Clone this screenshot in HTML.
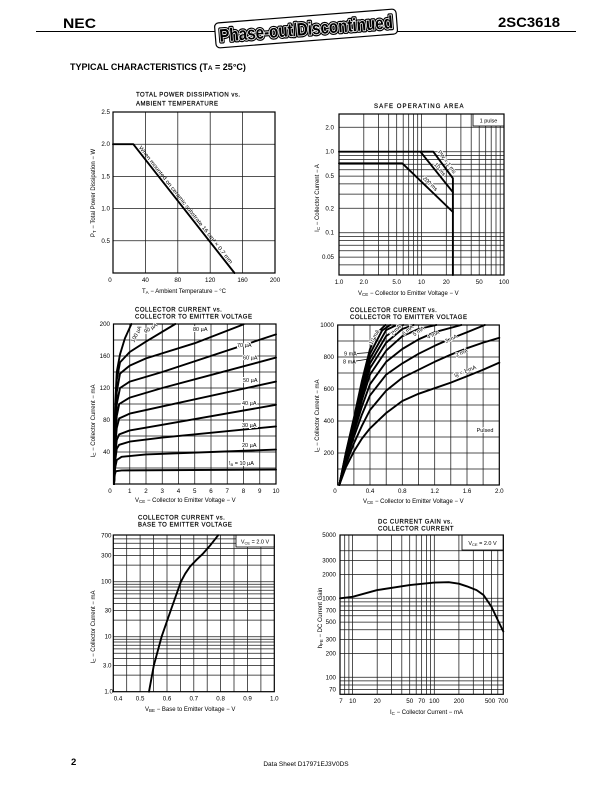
<!DOCTYPE html>
<html><head><meta charset="utf-8"><style>
html,body{margin:0;padding:0;background:#fff;}
svg{display:block;}
text{font-family:"Liberation Sans",Arial,sans-serif;fill:#000;}
.g{stroke:#1a1a1a;stroke-width:0.75;fill:none;}
.b{stroke:#000;stroke-width:1.2;fill:none;}
.c{stroke:#000;stroke-width:1.9;fill:none;stroke-linejoin:round;stroke-linecap:round;}
.t{font-size:6.2px;}
.tr{font-size:6.2px;text-anchor:end;}
.tm{font-size:6.2px;text-anchor:middle;}
.h{font-size:6px;letter-spacing:0.5px;stroke:#000;stroke-width:0.2;}
.a{font-size:6px;}
.l{font-size:5.5px;stroke:#fff;stroke-width:2;paint-order:stroke;}
.lm{font-size:5.5px;text-anchor:middle;stroke:#fff;stroke-width:1.5;paint-order:stroke;}
</style></head><body>
<svg width="612" height="792" viewBox="0 0 612 792" xmlns="http://www.w3.org/2000/svg">
<!-- Header -->
<text x="63" y="28" style="font-size:14px;font-weight:bold;" textLength="33" lengthAdjust="spacingAndGlyphs">NEC</text>
<line x1="36" y1="31.5" x2="215" y2="31.5" stroke="#000" stroke-width="1"/>
<line x1="397" y1="31.5" x2="576" y2="31.5" stroke="#000" stroke-width="1"/>
<text x="498" y="27" style="font-size:14px;font-weight:bold;" textLength="62" lengthAdjust="spacingAndGlyphs">2SC3618</text>
<g transform="translate(306,28) rotate(-4.5)">
<rect x="-91" y="-12" width="182" height="25" rx="4" fill="#fff" stroke="#000" stroke-width="1.2"/>
<text x="-87" y="7" style="font-size:18px;font-weight:bold;" textLength="174" lengthAdjust="spacingAndGlyphs" stroke="#000" stroke-width="4" stroke-linejoin="round">Phase-out/Discontinued</text>
<text x="-87" y="7" style="font-size:18px;font-weight:bold;fill:#000;" textLength="174" lengthAdjust="spacingAndGlyphs" stroke="#fff" stroke-width="1.6" stroke-linejoin="round" paint-order="stroke">Phase-out/Discontinued</text>
</g>
<text x="70" y="70" style="font-size:9px;font-weight:bold;">TYPICAL CHARACTERISTICS (T<tspan style="font-size:6.5px">A</tspan> = 25°C)</text>

<!-- ============ Chart 1: Power dissipation ============ -->
<text x="136" y="96.5" class="h">TOTAL POWER DISSIPATION vs.</text>
<text x="136" y="105.5" class="h">AMBIENT TEMPERATURE</text>
<g class="g">
<path d="M145.4 112V273M177.8 112V273M210.2 112V273M242.6 112V273M113 144.2H275M113 176.4H275M113 208.6H275M113 240.8H275"/>
</g>
<rect x="113" y="112" width="162" height="161" class="b"/>
<polyline points="113,144.2 133.3,144.2 234.5,273" class="c" stroke-width="2.2"/>
<text transform="translate(138.6,147.7) rotate(51.8)" style="font-size:5.5px;" textLength="148" lengthAdjust="spacingAndGlyphs">When mounted on ceramic substrate 16 cm² × 0.7 mm</text>
<text x="110" y="114" class="tr">2.5</text>
<text x="110" y="146.2" class="tr">2.0</text>
<text x="110" y="178.4" class="tr">1.5</text>
<text x="110" y="210.6" class="tr">1.0</text>
<text x="110" y="242.8" class="tr">0.5</text>
<text x="110" y="282" class="tm">0</text>
<text x="145.4" y="282" class="tm">40</text>
<text x="177.8" y="282" class="tm">80</text>
<text x="210.2" y="282" class="tm">120</text>
<text x="242.6" y="282" class="tm">160</text>
<text x="275" y="282" class="tm">200</text>
<text x="142" y="293" class="a">T<tspan style="font-size:4.5px" dy="1">A</tspan><tspan dy="-1"> − Ambient  Temperature − °C</tspan></text>
<text transform="translate(95,193) rotate(-90)" class="a" text-anchor="middle">P<tspan style="font-size:4.5px" dy="1">T</tspan><tspan dy="-1"> − Total Power  Dissipation − W</tspan></text>

<!-- ============ Chart 2: SOA ============ -->
<text x="374" y="108" class="h" textLength="90">SAFE OPERATING AREA</text>
<g class="g">
<path d="M363.8 114V275M378.4 114V275M388.7 114V275M396.7 114V275M403.2 114V275M408.7 114V275M413.5 114V275M417.7 114V275M421.5 114V275M446.3 114V275M460.9 114V275M471.2 114V275M479.2 114V275M485.7 114V275M491.2 114V275M496 114V275M500.2 114V275"/>
<path d="M339 127.3H504M339 151.7H504M339 155.4H504M339 159.6H504M339 164.2H504M339 169.7H504M339 176.1H504M339 183.9H504M339 194.1H504M339 208.3H504M339 232.7H504M339 236.4H504M339 240.6H504M339 245.2H504M339 250.7H504M339 257.1H504M339 264.9H504"/>
</g>
<rect x="473" y="114" width="31" height="12" fill="#fff" stroke="#000" stroke-width="0.8"/>
<text x="488.5" y="122.5" class="lm" style="stroke:none">1 pulse</text>
<rect x="339" y="114" width="165" height="161" class="b"/>
<polyline points="339,151.7 433.3,151.7 452.9,178.3 452.9,275" class="c"/>
<polyline points="420.4,151.7 452.9,192.2" class="c"/>
<polyline points="339,163.3 402.3,163.3 452.9,212" class="c"/>
<text transform="translate(445.5,163) rotate(53.6)" class="lm">PW = 1 ms</text>
<text transform="translate(438.5,170.5) rotate(51)" class="lm">10 ms</text>
<text transform="translate(429,185) rotate(43.9)" class="lm">200 ms</text>
<text x="334" y="129.3" class="tr">2.0</text>
<text x="334" y="153.7" class="tr">1.0</text>
<text x="334" y="178.1" class="tr">0.5</text>
<text x="334" y="210.3" class="tr">0.2</text>
<text x="334" y="234.7" class="tr">0.1</text>
<text x="334" y="259.1" class="tr">0.05</text>
<text x="339" y="284" class="tm">1.0</text>
<text x="363.8" y="284" class="tm">2.0</text>
<text x="396.7" y="284" class="tm">5.0</text>
<text x="421.5" y="284" class="tm">10</text>
<text x="446.3" y="284" class="tm">20</text>
<text x="479.2" y="284" class="tm">50</text>
<text x="504" y="284" class="tm">100</text>
<text x="358" y="295" class="a">V<tspan style="font-size:4.5px" dy="1">CE</tspan><tspan dy="-1"> − Collector to Emitter Voltage − V</tspan></text>
<text transform="translate(319,198) rotate(-90)" class="a" text-anchor="middle">I<tspan style="font-size:4.5px" dy="1">C</tspan><tspan dy="-1"> − Collector Current − A</tspan></text>

<!-- ============ Chart 3: IC vs VCE (0-10V) ============ -->
<text x="135" y="311.7" class="h">COLLECTOR CURRENT vs.</text>
<text x="135" y="318.5" class="h">COLLECTOR TO EMITTER VOLTAGE</text>
<g class="g">
<path d="M129.75 324V484M146 324V484M162.25 324V484M178.5 324V484M194.75 324V484M211 324V484M227.25 324V484M243.5 324V484M259.75 324V484"/>
<path d="M113.5 468H276M113.5 452H276M113.5 436H276M113.5 420H276M113.5 404H276M113.5 388H276M113.5 372H276M113.5 356H276M113.5 340H276"/>
</g>
<rect x="113.5" y="324" width="162.5" height="160" class="b"/>
<g class="c">
<polyline points="114,484 114.8,474.4 115.9,471.2 121.6,470.4 276,469.6"/>
<polyline points="114,484 115.1,468 116.75,460 121.6,456.8 146,454.4 276,449.6"/>
<polyline points="114,484 115.1,461.6 116.75,448.8 119.2,444.8 129.75,441.6 162.25,437.6 276,426.4"/>
<polyline points="114,484 115.1,456 116.75,440 119.2,434.4 129.75,430.4 162.25,424.8 276,404.8"/>
<polyline points="114,484 115.1,448 116.75,428 119.2,418.4 129.75,413.6 162.25,406.4 276,381.6"/>
<polyline points="114,484 115.1,440 116.75,416 119.2,404 129.75,397.6 162.25,388 276,357.6"/>
<polyline points="114,484 115.1,432 116.75,404 120,388 129.75,381.6 162.25,372 276,334.4"/>
<polyline points="114,484 115.1,424 116.75,392 120,373.6 129.75,365.6 146,358.4 194.75,343.2 243.5,324.4"/>
<polyline points="114,484 115.1,416 116.75,380 120,362.4 129.75,352 146,341.6 175.25,324"/>
<polyline points="114,484 115.1,408 116.75,372 120,354.4 124.9,338.4 131.4,324"/>
</g>
<text transform="translate(136,334) rotate(-65)" class="lm" y="2">100 µA</text>
<text transform="translate(150.5,328) rotate(-31)" class="lm" y="2">90 µA</text>
<text x="193" y="331" class="l">80 µA</text>
<text x="237" y="347" class="l">70 µA</text>
<text x="243" y="359.5" class="l">60 µA</text>
<text x="243" y="382" class="l">50 µA</text>
<text x="242" y="405" class="l">40 µA</text>
<text x="242" y="427" class="l">30 µA</text>
<text x="242" y="447" class="l">20 µA</text>
<text x="229" y="465" class="l">I<tspan style="font-size:4px" dy="1">B</tspan><tspan dy="-1"> = 10 µA</tspan></text>
<text x="110" y="326" class="tr">200</text>
<text x="110" y="358" class="tr">160</text>
<text x="110" y="390" class="tr">120</text>
<text x="110" y="422" class="tr">80</text>
<text x="110" y="454" class="tr">40</text>
<text x="110" y="493" class="tm">0</text>
<text x="129.75" y="493" class="tm">1</text>
<text x="146" y="493" class="tm">2</text>
<text x="162.25" y="493" class="tm">3</text>
<text x="178.5" y="493" class="tm">4</text>
<text x="194.75" y="493" class="tm">5</text>
<text x="211" y="493" class="tm">6</text>
<text x="227.25" y="493" class="tm">7</text>
<text x="243.5" y="493" class="tm">8</text>
<text x="259.75" y="493" class="tm">9</text>
<text x="276" y="493" class="tm">10</text>
<text x="135" y="502" class="a">V<tspan style="font-size:4.5px" dy="1">CE</tspan><tspan dy="-1"> − Collector to Emitter Voltage − V</tspan></text>
<text transform="translate(95,421) rotate(-90)" class="a" text-anchor="middle">I<tspan style="font-size:4.5px" dy="1">C</tspan><tspan dy="-1"> − Collector Current − mA</tspan></text>

<!-- ============ Chart 4: IC vs VCE (0-2V) ============ -->
<text x="350" y="312" class="h">COLLECTOR CURRENT vs.</text>
<text x="350" y="319" class="h">COLLECTOR TO EMITTER VOLTAGE</text>
<g class="g">
<path d="M353.9 325V485M370 325V485M386.2 325V485M402.3 325V485M418.5 325V485M434.7 325V485M450.8 325V485M467 325V485M483.1 325V485"/>
<path d="M337.7 469H499.3M337.7 453H499.3M337.7 437H499.3M337.7 421H499.3M337.7 405H499.3M337.7 389H499.3M337.7 373H499.3M337.7 357H499.3M337.7 341H499.3"/>
</g>
<rect x="337.7" y="325" width="161.6" height="160" class="b"/>
<g class="c">
<polyline points="339.3,485 345.8,467.4 353.9,451.4 361.9,438.6 370,428.4 386.2,413 402.3,401 418.5,393.8 434.7,388.2 450.8,382.6 467,376.2 483.1,369.8 499.3,362.6"/>
<polyline points="339.3,485 345.8,464.2 353.9,443.4 361.9,425.8 370,410 386.2,390.6 402.3,377.8 418.5,369.8 434.7,361.8 450.8,354.6 467,348.2 483.1,342.6 499.3,337.8"/>
<polyline points="339.3,485 345.8,461 353.9,437 361.9,414.6 370,395.4 386.2,374.6 402.3,363.4 418.5,353.8 434.7,345.8 450.8,338.6 467,332.2 484.8,325"/>
<polyline points="339.3,485 345.8,459.4 353.9,432.2 361.9,406.6 370,384.2 386.2,361.8 402.3,349 418.5,339.4 434.7,332.2 461.3,325"/>
<polyline points="339.3,485 345.8,457.8 353.9,429 361.9,400.2 370,374.6 386.2,350.6 402.3,336.2 418.5,329 436.3,325"/>
<polyline points="339.3,485 345.8,456.2 353.9,425.8 361.9,395.4 370,368.2 386.2,342.6 402.3,329 413.6,325"/>
<polyline points="339.3,485 345.8,455.4 353.9,423.4 361.9,390.6 370,363.4 386.2,336 403.1,325"/>
<polyline points="339.3,485 345.8,454.6 353.9,421 361.9,387.4 370,358.6 386.2,330 396.7,325"/>
<polyline points="339.3,485 345.8,453.8 353.9,419.4 361.9,384.2 370,353.8 382.1,330.5 390.2,325"/>
<polyline points="339.3,485 345.8,453 353.9,417.8 361.9,381 370,349 378.1,332 385.4,325"/>
</g>
<text transform="translate(374,337) rotate(-62)" class="lm" y="2">10 mA</text>
<text transform="translate(395.5,330) rotate(-50)" class="lm" y="2">7 mA</text>
<text transform="translate(407.5,330) rotate(-40)" class="lm" y="2">6 mA</text>
<text transform="translate(418.5,331) rotate(-35)" class="lm" y="2">5 mA</text>
<text transform="translate(433,334.5) rotate(-25)" class="lm" y="2">4 mA</text>
<text transform="translate(451,338.5) rotate(-25)" class="lm" y="2">3 mA</text>
<text transform="translate(461.5,352.5) rotate(-25)" class="lm" y="2">2 mA</text>
<text transform="translate(465,371) rotate(-22)" class="lm" y="2">I<tspan style="font-size:4px" dy="1">B</tspan><tspan dy="-1"> = 1 mA</tspan></text>
<text x="344" y="355.5" style="font-size:5.5px">9 mA</text>
<line x1="357" y1="353.5" x2="370" y2="352.5" stroke="#000" stroke-width="0.7"/>
<text x="343" y="363.5" style="font-size:5.5px">8 mA</text>
<line x1="356" y1="361" x2="369" y2="359" stroke="#000" stroke-width="0.7"/>
<text x="485" y="432" class="lm">Pulsed</text>
<text x="334" y="327" class="tr">1000</text>
<text x="334" y="359" class="tr">800</text>
<text x="334" y="391" class="tr">600</text>
<text x="334" y="423" class="tr">400</text>
<text x="334" y="455" class="tr">200</text>
<text x="335" y="493" class="tm">0</text>
<text x="370" y="493" class="tm">0.4</text>
<text x="402.3" y="493" class="tm">0.8</text>
<text x="434.7" y="493" class="tm">1.2</text>
<text x="467" y="493" class="tm">1.6</text>
<text x="499.3" y="493" class="tm">2.0</text>
<text x="363" y="503" class="a">V<tspan style="font-size:4.5px" dy="1">CE</tspan><tspan dy="-1"> − Collector to Emitter Voltage − V</tspan></text>
<text transform="translate(319,416) rotate(-90)" class="a" text-anchor="middle">I<tspan style="font-size:4.5px" dy="1">C</tspan><tspan dy="-1"> − Collector Current − mA</tspan></text>

<!-- ============ Chart 5: IC vs VBE ============ -->
<text x="138" y="519.5" class="h">COLLECTOR CURRENT vs.</text>
<text x="138" y="526.5" class="h">BASE TO EMITTER VOLTAGE</text>
<g class="g">
<path d="M126.7 535V691.7M140.1 535V691.7M153.5 535V691.7M167 535V691.7M180.4 535V691.7M193.8 535V691.7M207.2 535V691.7M220.6 535V691.7M234 535V691.7M247.5 535V691.7M260.9 535V691.7"/>
<path d="M113.3 675.1H274.3M113.3 665.5H274.3M113.3 658.6H274.3M113.3 653.3H274.3M113.3 648.9H274.3M113.3 645.2H274.3M113.3 642H274.3M113.3 639.2H274.3M113.3 636.7H274.3M113.3 620.1H274.3M113.3 610.5H274.3M113.3 603.6H274.3M113.3 598.3H274.3M113.3 593.9H274.3M113.3 590.2H274.3M113.3 587H274.3M113.3 584.2H274.3M113.3 581.7H274.3M113.3 565.1H274.3M113.3 555.5H274.3M113.3 548.6H274.3M113.3 543.3H274.3M113.3 538.9H274.3"/>
</g>
<rect x="236" y="535" width="38.3" height="12" fill="#fff" stroke="#000" stroke-width="0.8"/>
<text x="255" y="543.5" class="lm" style="stroke:none">V<tspan style="font-size:4px" dy="1">CE</tspan><tspan dy="-1"> = 2.0 V</tspan></text>
<rect x="113.3" y="535" width="161" height="156.7" class="b"/>
<polyline points="149,691.7 153.8,665.5 161.6,636.7 170.7,610.5 180.9,581.7 185.2,573.7 190,566.6 196.5,559.8 203.2,553.4 209.9,545.8 218.2,535.2" class="c"/>
<text x="111.5" y="537.5" class="tr">700</text>
<text x="111.5" y="557.5" class="tr">300</text>
<text x="111.5" y="583.7" class="tr">100</text>
<text x="111.5" y="612.5" class="tr">30</text>
<text x="111.5" y="638.7" class="tr">10</text>
<text x="111.5" y="667.5" class="tr">3.0</text>
<text x="113" y="693.7" class="tr">1.0</text>
<text x="118" y="700.5" class="tm">0.4</text>
<text x="140.1" y="700.5" class="tm">0.5</text>
<text x="167" y="700.5" class="tm">0.6</text>
<text x="193.8" y="700.5" class="tm">0.7</text>
<text x="220.6" y="700.5" class="tm">0.8</text>
<text x="247.5" y="700.5" class="tm">0.9</text>
<text x="274.3" y="700.5" class="tm">1.0</text>
<text x="145" y="711" class="a">V<tspan style="font-size:4.5px" dy="1">BE</tspan><tspan dy="-1"> − Base to Emitter Voltage − V</tspan></text>
<text transform="translate(95,627) rotate(-90)" class="a" text-anchor="middle">I<tspan style="font-size:4.5px" dy="1">C</tspan><tspan dy="-1"> − Collector Current − mA</tspan></text>

<!-- ============ Chart 6: hFE vs IC ============ -->
<text x="378" y="523.5" class="h">DC CURRENT GAIN vs.</text>
<text x="378" y="530.5" class="h">COLLECTOR CURRENT</text>
<g class="g">
<path d="M344.7 535V694.3M348.9 535V694.3M352.6 535V694.3M377.2 535V694.3M391.6 535V694.3M401.8 535V694.3M409.7 535V694.3M416.2 535V694.3M421.65 535V694.3M426.4 535V694.3M430.6 535V694.3M434.3 535V694.3M458.9 535V694.3M473.3 535V694.3M483.5 535V694.3M491.4 535V694.3M497.8 535V694.3"/>
<path d="M340 550.7H503.3M340 560.6H503.3M340 574.5H503.3M340 598.3H503.3M340 601.9H503.3M340 606H503.3M340 610.5H503.3M340 615.8H503.3M340 622.1H503.3M340 629.7H503.3M340 639.6H503.3M340 653.5H503.3M340 677.3H503.3M340 680.9H503.3M340 685H503.3M340 689.5H503.3"/>
</g>
<rect x="462" y="535" width="41.3" height="15" fill="#fff" stroke="#000" stroke-width="0.8"/>
<text x="482.5" y="545" class="lm" style="stroke:none">V<tspan style="font-size:4px" dy="1">CE</tspan><tspan dy="-1"> = 2.0 V</tspan></text>
<rect x="340" y="535" width="163.3" height="159.3" class="b"/>
<polyline points="340,598.3 352.6,596.8 377.2,590.1 409.7,585.1 434.3,582.6 448.7,582.2 458.9,583.7 466.8,586.3 476.6,590.1 483.5,595 491.4,606.6 497.8,620.1 503.3,631.5" class="c"/>
<text x="336" y="537" class="tr">5000</text>
<text x="336" y="562.6" class="tr">3000</text>
<text x="336" y="576.5" class="tr">2000</text>
<text x="336" y="600.3" class="tr">1000</text>
<text x="336" y="612.5" class="tr">700</text>
<text x="336" y="624.1" class="tr">500</text>
<text x="336" y="641.6" class="tr">300</text>
<text x="336" y="655.5" class="tr">200</text>
<text x="336" y="679.3" class="tr">100</text>
<text x="336" y="691.5" class="tr">70</text>
<text x="341" y="703" class="tm">7</text>
<text x="352.6" y="703" class="tm">10</text>
<text x="377.2" y="703" class="tm">20</text>
<text x="409.7" y="703" class="tm">50</text>
<text x="421.65" y="703" class="tm">70</text>
<text x="434.3" y="703" class="tm">100</text>
<text x="458.9" y="703" class="tm">200</text>
<text x="490" y="703" class="tm">500</text>
<text x="503" y="703" class="tm">700</text>
<text x="390" y="714" class="a">I<tspan style="font-size:4.5px" dy="1">C</tspan><tspan dy="-1"> − Collector Current − mA</tspan></text>
<text transform="translate(322,618) rotate(-90)" class="a" text-anchor="middle">h<tspan style="font-size:4.5px" dy="1">FE</tspan><tspan dy="-1"> − DC Current Gain</tspan></text>

<!-- Footer -->
<text x="71" y="765" style="font-size:9.5px;font-weight:bold;">2</text>
<text x="306" y="766" style="font-size:6.5px;" text-anchor="middle">Data Sheet  D17971EJ3V0DS</text>
</svg>
</body></html>
